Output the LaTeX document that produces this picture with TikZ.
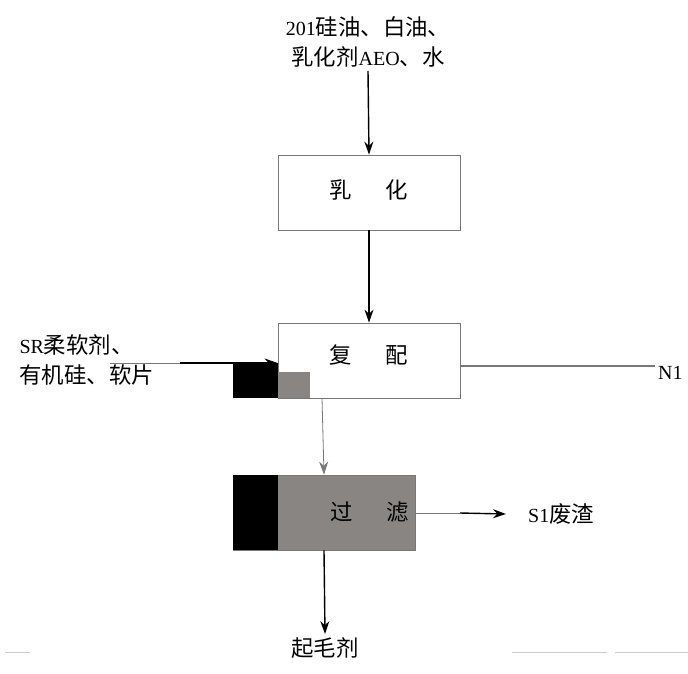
\documentclass[tikz,border=0pt]{standalone}
\usepackage{fontspec}
\setmainfont{Liberation Serif}
\newfontfamily\cjk[Scale=1.12]{Noto Sans CJK SC}
\usetikzlibrary{arrows.meta}
\definecolor{fillgray}{RGB}{136,133,131}
\definecolor{edgegray}{RGB}{120,120,120}

\begin{document}
\begin{tikzpicture}[x=1pt,y=-1pt,>={Stealth[length=13pt,width=9pt]},
    every node/.style={font=\fontsize{20}{30}\selectfont, align=center},
    proc/.style={draw=edgegray, line width=0.8pt, minimum width=182pt, minimum height=75pt, inner sep=0pt},
    flow/.style={->, line width=1.4pt},
    thinline/.style={draw=edgegray, line width=0.8pt}]
    \useasboundingbox (0,0) rectangle (688,673);

    \node (feed) at (368,42) {201{\cjk 硅油、白油、}\\{\cjk 乳化剂}AEO{\cjk 、水}};
    \node[proc] (emul) at (369,192.5) {};
    \node (emullbl) at (369,190) {\cjk 乳\hspace{34pt}化};
    \node[proc] (blend) at (369,360.5) {};
    \node (blendlbl) at (369,355) {\cjk 复\hspace{34pt}配};

    % covered parts
    \fill[black] (233,363) rectangle (278,398);
    \fill[fillgray] (278,372) rectangle (310,398);

    \node[proc, fill=fillgray] (filt) at (324,512.5) {};
    \fill[black] (233,475) rectangle (278,550);
    \node (filtlbl) at (370,512) {\cjk 过\hspace{34pt}滤};

    \node[anchor=west, align=left] (soft) at (16,360) {SR{\cjk 柔软剂、}\\{\cjk 有机硅、软片}};
    \node[anchor=west, inner sep=0pt] (waste) at (528,514) {S1{\cjk 废渣}};
    \node[anchor=west, inner sep=0pt] (noise) at (658,373) {N1};
    \node (prod) at (325,648) {\cjk 起毛剂};

    \coordinate (softa) at (110,363);
    \coordinate (softb) at (180,363);
    \coordinate (s1a) at (460,513);
    \coordinate (n1) at (655,366);

    \draw[flow] (feed.south) -- (emul.north);
    \draw[flow] (emul.south) -- (blend.north);
    \draw[thinline] (softa) -- (softb);
    \draw[flow] (softb) -- (blend.west |- softb);
    \draw[edgegray, line width=1.6pt] (blend.east |- n1) -- (n1);
    \draw[thinline, ->] (322,398) -- (filt.north);
    \draw[thinline] (filt.east |- s1a) -- (s1a);
    \draw[flow] (s1a) -- ([xshift=-22pt]waste.west);
    \draw[flow] (filt.south) -- (prod.north);

    % page lines
    \draw[gray!40, line width=1pt] (5,652) -- (30,652) (512,652) -- (607,652) (615,652) -- (688,652);
\end{tikzpicture}
\end{document}
